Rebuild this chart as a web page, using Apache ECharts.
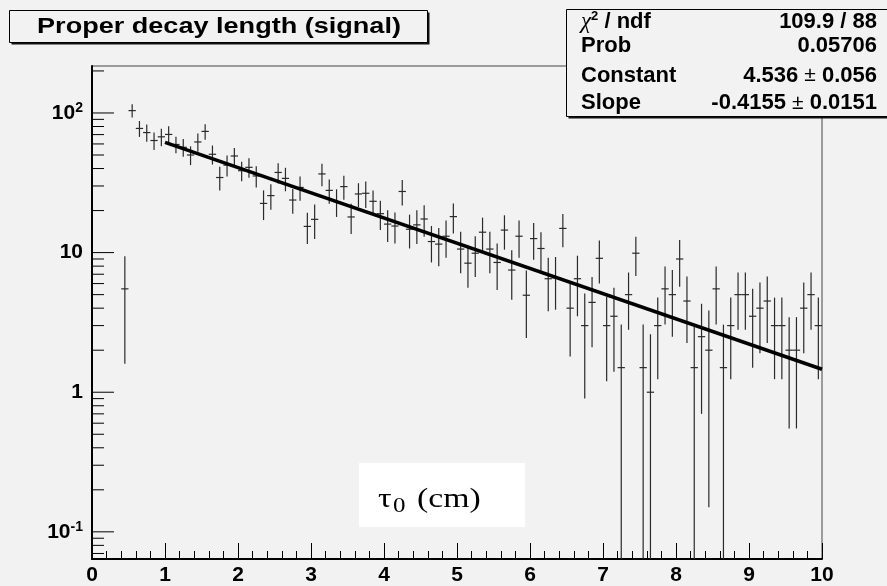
<!DOCTYPE html>
<html>
<head>
<meta charset="utf-8">
<script src="https://cdn.jsdelivr.net/npm/echarts@6/dist/echarts.min.js"></script>
<style>
  html, body { margin: 0; padding: 0; background: #f2f2f2; }
  #chart { width: 887px; height: 586px; }
</style>
</head>
<body>
<div id="chart"></div>
<script>
// ---- data ----
const binWidth = 0.1;
const binCenters = [
  0.45, 0.55, 0.65, 0.75, 0.85, 0.95, 1.05, 1.15, 1.25, 1.35, 1.45, 1.55, 1.65, 1.75, 1.85, 1.95,
  2.05, 2.15, 2.25, 2.35, 2.45, 2.55, 2.65, 2.75, 2.85, 2.95, 3.05, 3.15, 3.25, 3.35, 3.45, 3.55,
  3.65, 3.75, 3.85, 3.95, 4.05, 4.15, 4.25, 4.35, 4.45, 4.55, 4.65, 4.75, 4.85, 4.95, 5.05, 5.15,
  5.25, 5.35, 5.45, 5.55, 5.65, 5.75, 5.85, 5.95, 6.05, 6.15, 6.25, 6.35, 6.45, 6.55, 6.65, 6.75,
  6.85, 6.95, 7.05, 7.15, 7.25, 7.35, 7.45, 7.55, 7.65, 7.75, 7.85, 7.95, 8.05, 8.15, 8.25, 8.35,
  8.45, 8.55, 8.65, 8.75, 8.85, 8.95, 9.05, 9.15, 9.25, 9.35, 9.45, 9.55, 9.65, 9.75, 9.85, 9.95
];
const counts = [
  5.5, 104, 77.5, 72.4, 63.5, 67.5, 70.2, 59.5, 56.8, 50.0, 62.0, 73.8, 50.6, 34.5, 42.3, 49.2,
  38.6, 40.8, 35.4, 22.5, 25.6, 37.5, 34.0, 23.8, 29.3, 15.4, 17.3, 36.6, 27.9, 23.2, 29.7, 18.0,
  26.3, 26.6, 23.3, 19.0, 16.0, 15.5, 27.4, 14.7, 15.8, 17.4, 12.0, 11.5, 13.1, 18.1, 10.6, 8.4,
  9.9, 14.0, 10.6, 8.5, 14.5, 7.5, 13.1, 4.95, 12.6, 10.7, 6.5, 6.6, 14.9, 4.0, 6.5, 3.0,
  4.4, 9.1, 3.0, 3.5, 1.5, 5.0, 9.9, 1.5, 1.0, 3.0, 5.5, 5.0, 9.0, 4.5, 1.5, 2.5,
  2.0, 5.5, 1.5, 3.0, 5.0, 5.0, 3.5, 4.0, 4.5, 3.0, 3.0, 2.0, 2.0, 4.0, 5.0, 3.0
];
const errors = [
  3.9, 11.3, 10.1, 10.2, 9.1, 9.7, 10.1, 8.0, 8.2, 7.7, 9.3, 9.4, 7.9, 6.7, 7.2, 7.0,
  6.2, 6.5, 6.2, 5.4, 5.3, 6.2, 6.5, 4.8, 5.8, 3.9, 4.8, 6.7, 5.5, 5.2, 5.8, 4.4,
  5.1, 5.7, 4.5, 4.5, 4.1, 3.9, 5.7, 4.0, 4.3, 4.4, 3.5, 3.5, 3.9, 4.4, 3.5, 2.8,
  3.2, 3.8, 3.5, 3.1, 4.0, 2.9, 3.9, 2.5, 3.7, 3.3, 2.7, 2.7, 4.0, 2.2, 3.0, 2.1,
  2.3, 3.1, 1.8, 2.1, 1.55, 2.2, 3.1, 1.55, 1.6, 1.76, 2.45, 2.5, 3.3, 2.25, 1.55, 1.8,
  1.85, 2.45, 1.55, 1.76, 2.2, 2.2, 2.0, 2.1, 2.25, 1.76, 1.76, 1.45, 1.45, 2.1, 2.2, 1.76
];
// fit curve (exponential -> straight on log axis), endpoints of fit range
const fitX = [1.0, 10.0];
const fitY = [61.6, 1.46];

// axis ranges and tick values
const xMin = 0, xMax = 10;
const yMin = 0.0639, yMax = 217;
const yMajorTicks = [0.1, 1, 10, 100];
const yMinorTicks = [0.07, 0.08, 0.09, 0.2, 0.3, 0.4, 0.5, 0.6, 0.7, 0.8, 0.9,
  2, 3, 4, 5, 6, 7, 8, 9, 20, 30, 40, 50, 60, 70, 80, 90, 200];

// stats box text
const statsLabels = ['chi2', 'Prob', 'Constant', 'Slope'];
const statsValues = ['109.9 / 88', '0.05706', '{b|4.536 }{pm|\u00b1}{b| 0.056}', '{b|-0.4155 }{pm|\u00b1}{b| 0.0151}'];

const titleText = 'Proper decay length (signal)';

// ---- chart ----
const chart = echarts.init(document.getElementById('chart'), null, { renderer: 'canvas' });

const barData = binCenters.map((x, i) => [x, counts[i], errors[i]]);
const tickData = yMajorTicks.map(v => [xMin, v, 22]).concat(yMinorTicks.map(v => [xMin, v, 12]));
const fitData = fitX.map((x, i) => [x, fitY[i]]);

const FONT = '"Liberation Sans", Arial, Helvetica, sans-serif';
const SERIF = '"Liberation Serif", "Times New Roman", serif';

function statsLabelEl(i, y) {
  if (statsLabels[i] === 'chi2') {
    return {
      type: 'text', x: 581, y: y, z: 12,
      style: {
        text: '{chi|\u03c7}{sup|2}{b| / ndf}',
        align: 'left', verticalAlign: 'middle',
        rich: {
          chi: { fontFamily: SERIF, fontStyle: 'italic', fontSize: 23, fill: '#000', lineHeight: 24 },
          sup: { fontFamily: FONT, fontWeight: 'bold', fontSize: 13, fill: '#000', verticalAlign: 'top', lineHeight: 24 },
          b: { fontFamily: FONT, fontWeight: 'bold', fontSize: 22, fill: '#000', lineHeight: 24 }
        }
      }
    };
  }
  return {
    type: 'text', x: 581, y: y, z: 12,
    style: { text: statsLabels[i], font: 'bold 22px ' + FONT, fill: '#000', align: 'left', verticalAlign: 'middle' }
  };
}
function statsValueEl(i, y) {
  return {
    type: 'text', x: 877, y: y, z: 12,
    style: {
      text: statsValues[i], align: 'right', verticalAlign: 'middle',
      fontFamily: FONT, fontWeight: 'bold', fontSize: 22, fill: '#000',
      rich: {
        b: { fontFamily: FONT, fontWeight: 'bold', fontSize: 22, fill: '#000' },
        pm: { fontFamily: FONT, fontWeight: 'normal', fontSize: 21, fill: '#000' }
      }
    }
  };
}
const statsRowsY = [21.5, 46, 75.5, 103];
const statsEls = [];
statsRowsY.forEach((y, i) => { statsEls.push(statsLabelEl(i, y)); statsEls.push(statsValueEl(i, y)); });

const option = {
  animation: false,
  backgroundColor: '#f2f2f2',
  grid: {
    left: 92, right: 65, top: 66, bottom: 27,
    containLabel: false, outerBoundsMode: 'none',
    show: true, borderColor: '#444', borderWidth: 1, backgroundColor: 'transparent'
  },
  xAxis: {
    type: 'value', min: xMin, max: xMax, interval: 1,
    axisLine: { show: true, onZero: false, lineStyle: { color: '#000', width: 2 } },
    axisTick: { show: true, inside: true, length: 16, lineStyle: { color: '#000', width: 1 } },
    minorTick: { show: true, splitNumber: 5, length: 8, lineStyle: { color: '#000', width: 1 } },
    splitLine: { show: false },
    minorSplitLine: { show: false },
    axisLabel: { margin: 6, color: '#000', fontFamily: FONT, fontWeight: 'bold', fontSize: 21 }
  },
  yAxis: {
    type: 'log', logBase: 10, min: yMin, max: yMax,
    axisLine: { show: true, onZero: false, lineStyle: { color: '#000', width: 2 } },
    axisTick: { show: false },
    splitLine: { show: false },
    axisLabel: {
      margin: 9, color: '#000', fontFamily: FONT, fontWeight: 'bold', fontSize: 21,
      showMinLabel: true, showMaxLabel: true,
      formatter: function (v) {
        const l = Math.log10(v);
        const r = Math.round(l);
        if (Math.abs(l - r) > 1e-6) return '';
        if (r === 0) return '1';
        if (r === 1) return '10';
        return '{b|10}{s|' + r + '}';
      },
      rich: {
        b: { fontFamily: FONT, fontWeight: 'bold', fontSize: 21, color: '#000', lineHeight: 24 },
        s: { fontFamily: FONT, fontWeight: 'bold', fontSize: 14, color: '#000', verticalAlign: 'top', lineHeight: 24 }
      }
    }
  },
  series: [
    {
      name: 'yticks', type: 'custom', silent: true, clip: false, z: 3,
      data: tickData,
      renderItem: function (params, api) {
        const p = api.coord([api.value(0), api.value(1)]);
        const len = api.value(2);
        return {
          type: 'line',
          shape: { x1: p[0], y1: p[1], x2: p[0] + len, y2: p[1] },
          style: { stroke: '#000', lineWidth: 1 }
        };
      }
    },
    {
      name: 'signal', type: 'custom', silent: true, clip: true, z: 4,
      data: barData,
      renderItem: function (params, api) {
        const x = api.value(0), v = api.value(1), e = api.value(2);
        const half = binWidth / 2;
        const pL = api.coord([x - half, v]);
        const pR = api.coord([x + half, v]);
        const lo = Math.max(v - e, yMin);
        const hi = Math.min(v + e, yMax);
        const pT = api.coord([x, hi]);
        const pB = api.coord([x, lo]);
        const st = { stroke: '#2a2a2a', lineWidth: 1.2 };
        return {
          type: 'group',
          children: [
            { type: 'line', shape: { x1: pL[0], y1: pL[1], x2: pR[0], y2: pR[1] }, style: st },
            { type: 'line', shape: { x1: pT[0], y1: pT[1], x2: pB[0], y2: pB[1] }, style: st }
          ]
        };
      }
    },
    {
      name: 'fit', type: 'line', silent: true, z: 5,
      data: fitData, symbol: 'none',
      lineStyle: { color: '#000', width: 3.5 }
    }
  ],
  graphic: [
    // title box
    { type: 'rect', z: 10, shape: { x: 11.5, y: 12.5, width: 418, height: 32 }, style: { fill: '#111' } },
    { type: 'rect', z: 11, shape: { x: 9.5, y: 10.5, width: 418, height: 32 }, style: { fill: '#f2f2f2', stroke: '#000', lineWidth: 1 } },
    { type: 'text', z: 12, x: 219, y: 26.5, scaleX: 1.23,
      style: { text: titleText, font: 'bold 22px ' + FONT, fill: '#000', align: 'center', verticalAlign: 'middle' } },
    // stats box
    { type: 'rect', z: 10, shape: { x: 568.5, y: 11.5, width: 340, height: 107 }, style: { fill: '#111' } },
    { type: 'rect', z: 11, shape: { x: 566.5, y: 9.5, width: 340, height: 107 }, style: { fill: '#f2f2f2', stroke: '#000', lineWidth: 1 } }
  ].concat(statsEls).concat([
    // axis title box
    { type: 'rect', z: 10, shape: { x: 359, y: 463, width: 166, height: 64 }, style: { fill: '#ffffff' } },
    { type: 'text', z: 12, x: 378, y: 500, scaleX: 1.25,
      style: { text: '\u03c4', font: '27px ' + SERIF, fill: '#000', align: 'left', verticalAlign: 'middle' } },
    { type: 'text', z: 12, x: 393, y: 507, scaleX: 1.25,
      style: { text: '0', font: '20px ' + SERIF, fill: '#000', align: 'left', verticalAlign: 'middle' } },
    { type: 'text', z: 12, x: 417, y: 500, scaleX: 1.25,
      style: { text: '(cm)', font: '27px ' + SERIF, fill: '#000', align: 'left', verticalAlign: 'middle' } }
  ])
};

chart.setOption(option);
</script>
</body>
</html>
